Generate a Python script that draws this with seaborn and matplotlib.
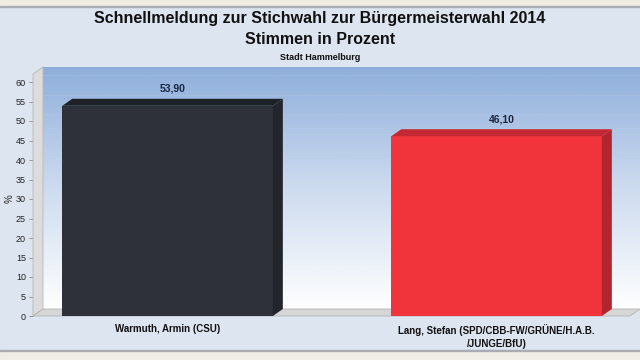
import numpy as np
import matplotlib
matplotlib.use("Agg")
import matplotlib.pyplot as plt
import seaborn as sns
import pandas as pd
from matplotlib.patches import Polygon, Rectangle
from matplotlib.colors import LinearSegmentedColormap

candidates = ["Warmuth, Armin (CSU)", "Lang, Stefan (SPD/CBB-FW/GRÜNE/H.A.B.\n/JUNGE/BfU)"]
values = [53.90, 46.10]
value_labels = ["53,90", "46,10"]
yticks = list(range(0, 65, 5))

front_colors = ["#2e3139", "#f1343c"]
top_colors = ["#1e2127", "#c42832"]
side_colors = ["#22252b", "#b3252e"]

sns.set_theme(style="white")
plt.rcParams['font.family'] = ['Liberation Sans', 'DejaVu Sans']

W, H = 640, 360
fig = plt.figure(figsize=(6.4, 3.6), dpi=100)
fig.patch.set_facecolor("#dde5f1")

def fx(px):
    return px / W

def fy(py):
    return 1 - py / H

# top and bottom beige strips
fig.patches.append(Rectangle((0, fy(6)), 1, 6 / H, transform=fig.transFigure, color="#efede2", zorder=0))
fig.patches.append(Rectangle((0, fy(7)), 1, 1 / H, transform=fig.transFigure, color="#a9acb2", zorder=0))
fig.patches.append(Rectangle((0, 0), 1, 9 / H, transform=fig.transFigure, color="#efede6", zorder=0))
fig.patches.append(Rectangle((0, 9 / H), 1, 1 / H, transform=fig.transFigure, color="#a9acb2", zorder=0))

# geometry (pixels)
L_front, R_front = 33, 630
B_front, T_front = 316, 82  # y pixel of 0 and 60
DX, DY = 10, 7
WALL_TOP = 67

# back wall gradient
bg = fig.add_axes([fx(L_front + DX), fy(B_front - DY), fx(W - (L_front + DX)), (B_front - DY - WALL_TOP) / H])
grad = np.linspace(0, 1, 256).reshape(-1, 1)
cmap = LinearSegmentedColormap.from_list("wall", ["#ffffff", "#cddbef", "#8eaedb"])
bg.imshow(grad, aspect="auto", cmap=cmap, origin="lower", extent=[0, 1, 0, 1])
bg.set_axis_off()
bg.set_zorder(0)

# main axes (front plane)
ax = fig.add_axes([fx(L_front), fy(B_front), fx(W - L_front), (B_front - T_front) / H])
ax.set_zorder(2)
ax.patch.set_alpha(0)

df = pd.DataFrame({"cand": candidates, "val": values})
sns.barplot(data=df, x="cand", y="val", hue="cand", palette=front_colors, legend=False,
            width=0.64, ax=ax, saturation=1, edgecolor="none")

ax.set_ylim(0, 60)
ax.set_xlim(-0.409, 1.436)

px_per_x = (W - L_front) / (1.436 + 0.409)
px_per_y = (B_front - T_front) / 60.0
dx = DX / px_per_x
dy = DY / px_per_y
wall_top = (B_front - WALL_TOP) / px_per_y - dy

# very faint grid lines on back wall
for t in yticks[1:]:
    ax.plot([ax.get_xlim()[0] + dx, ax.get_xlim()[1]], [t + dy, t + dy], color="#e8ecf3",
            lw=0.5, ls=(0, (2, 2)), alpha=0.25, zorder=0.5, clip_on=False)

# left wall
xl = ax.get_xlim()[0]
ax.add_patch(Polygon([[xl, 0], [xl + dx, dy], [xl + dx, wall_top + dy], [xl, wall_top]],
                     closed=True, facecolor="#dcdcdc", edgecolor="#b8b8b8", lw=0.6, clip_on=False, zorder=0.6))
# floor
xr = (R_front - L_front) / px_per_x + xl
ax.add_patch(Polygon([[xl, 0], [xr, 0], [xr + dx, dy], [xl + dx, dy]],
                     closed=True, facecolor="#d6d6d6", edgecolor="#b4b4b4", lw=0.6, clip_on=False, zorder=0.6))

# 3D faces for bars
for i, p in enumerate(ax.patches[:2]):
    x0, w, h = p.get_x(), p.get_width(), p.get_height()
    p.set_zorder(3)
    ax.add_patch(Polygon([[x0, h], [x0 + dx, h + dy], [x0 + w + dx, h + dy], [x0 + w, h]],
                         closed=True, facecolor=top_colors[i], edgecolor="none", zorder=3, clip_on=False))
    ax.add_patch(Polygon([[x0 + w, 0], [x0 + w + dx, dy], [x0 + w + dx, h + dy], [x0 + w, h]],
                         closed=True, facecolor=side_colors[i], edgecolor="none", zorder=3, clip_on=False))
    ax.text(x0 + w / 2 + dx / 2, h + dy + 1.3, value_labels[i], ha="center", va="bottom",
            fontsize=7.5, fontweight="bold", color="#1c2640", zorder=4)

for s in ax.spines.values():
    s.set_visible(False)
ax.set_yticks(yticks)
ax.set_yticklabels([str(t) for t in yticks], fontsize=6.5, color="#222222")
ax.tick_params(axis="y", length=3, width=0.6, color="#888888", pad=2, left=True)
ax.tick_params(axis="x", length=0, pad=6)
ax.set_xticks([0, 1])
ax.set_xticklabels(candidates, fontsize=7, fontweight="bold", color="#111111", linespacing=1.3, va="top")
ax.set_xlabel("")
ax.set_ylabel("%", fontsize=7, color="#222222", labelpad=1)

fig.text(0.5, fy(18), "Schnellmeldung zur Stichwahl zur Bürgermeisterwahl 2014", ha="center", va="center",
         fontsize=11.5, fontweight="bold", color="#111111")
fig.text(0.5, fy(39), "Stimmen in Prozent", ha="center", va="center",
         fontsize=11.5, fontweight="bold", color="#111111")
fig.text(0.5, fy(57), "Stadt Hammelburg", ha="center", va="center",
         fontsize=6.5, fontweight="bold", color="#111111")

fig.savefig("out.png", dpi=100, facecolor=fig.get_facecolor())
